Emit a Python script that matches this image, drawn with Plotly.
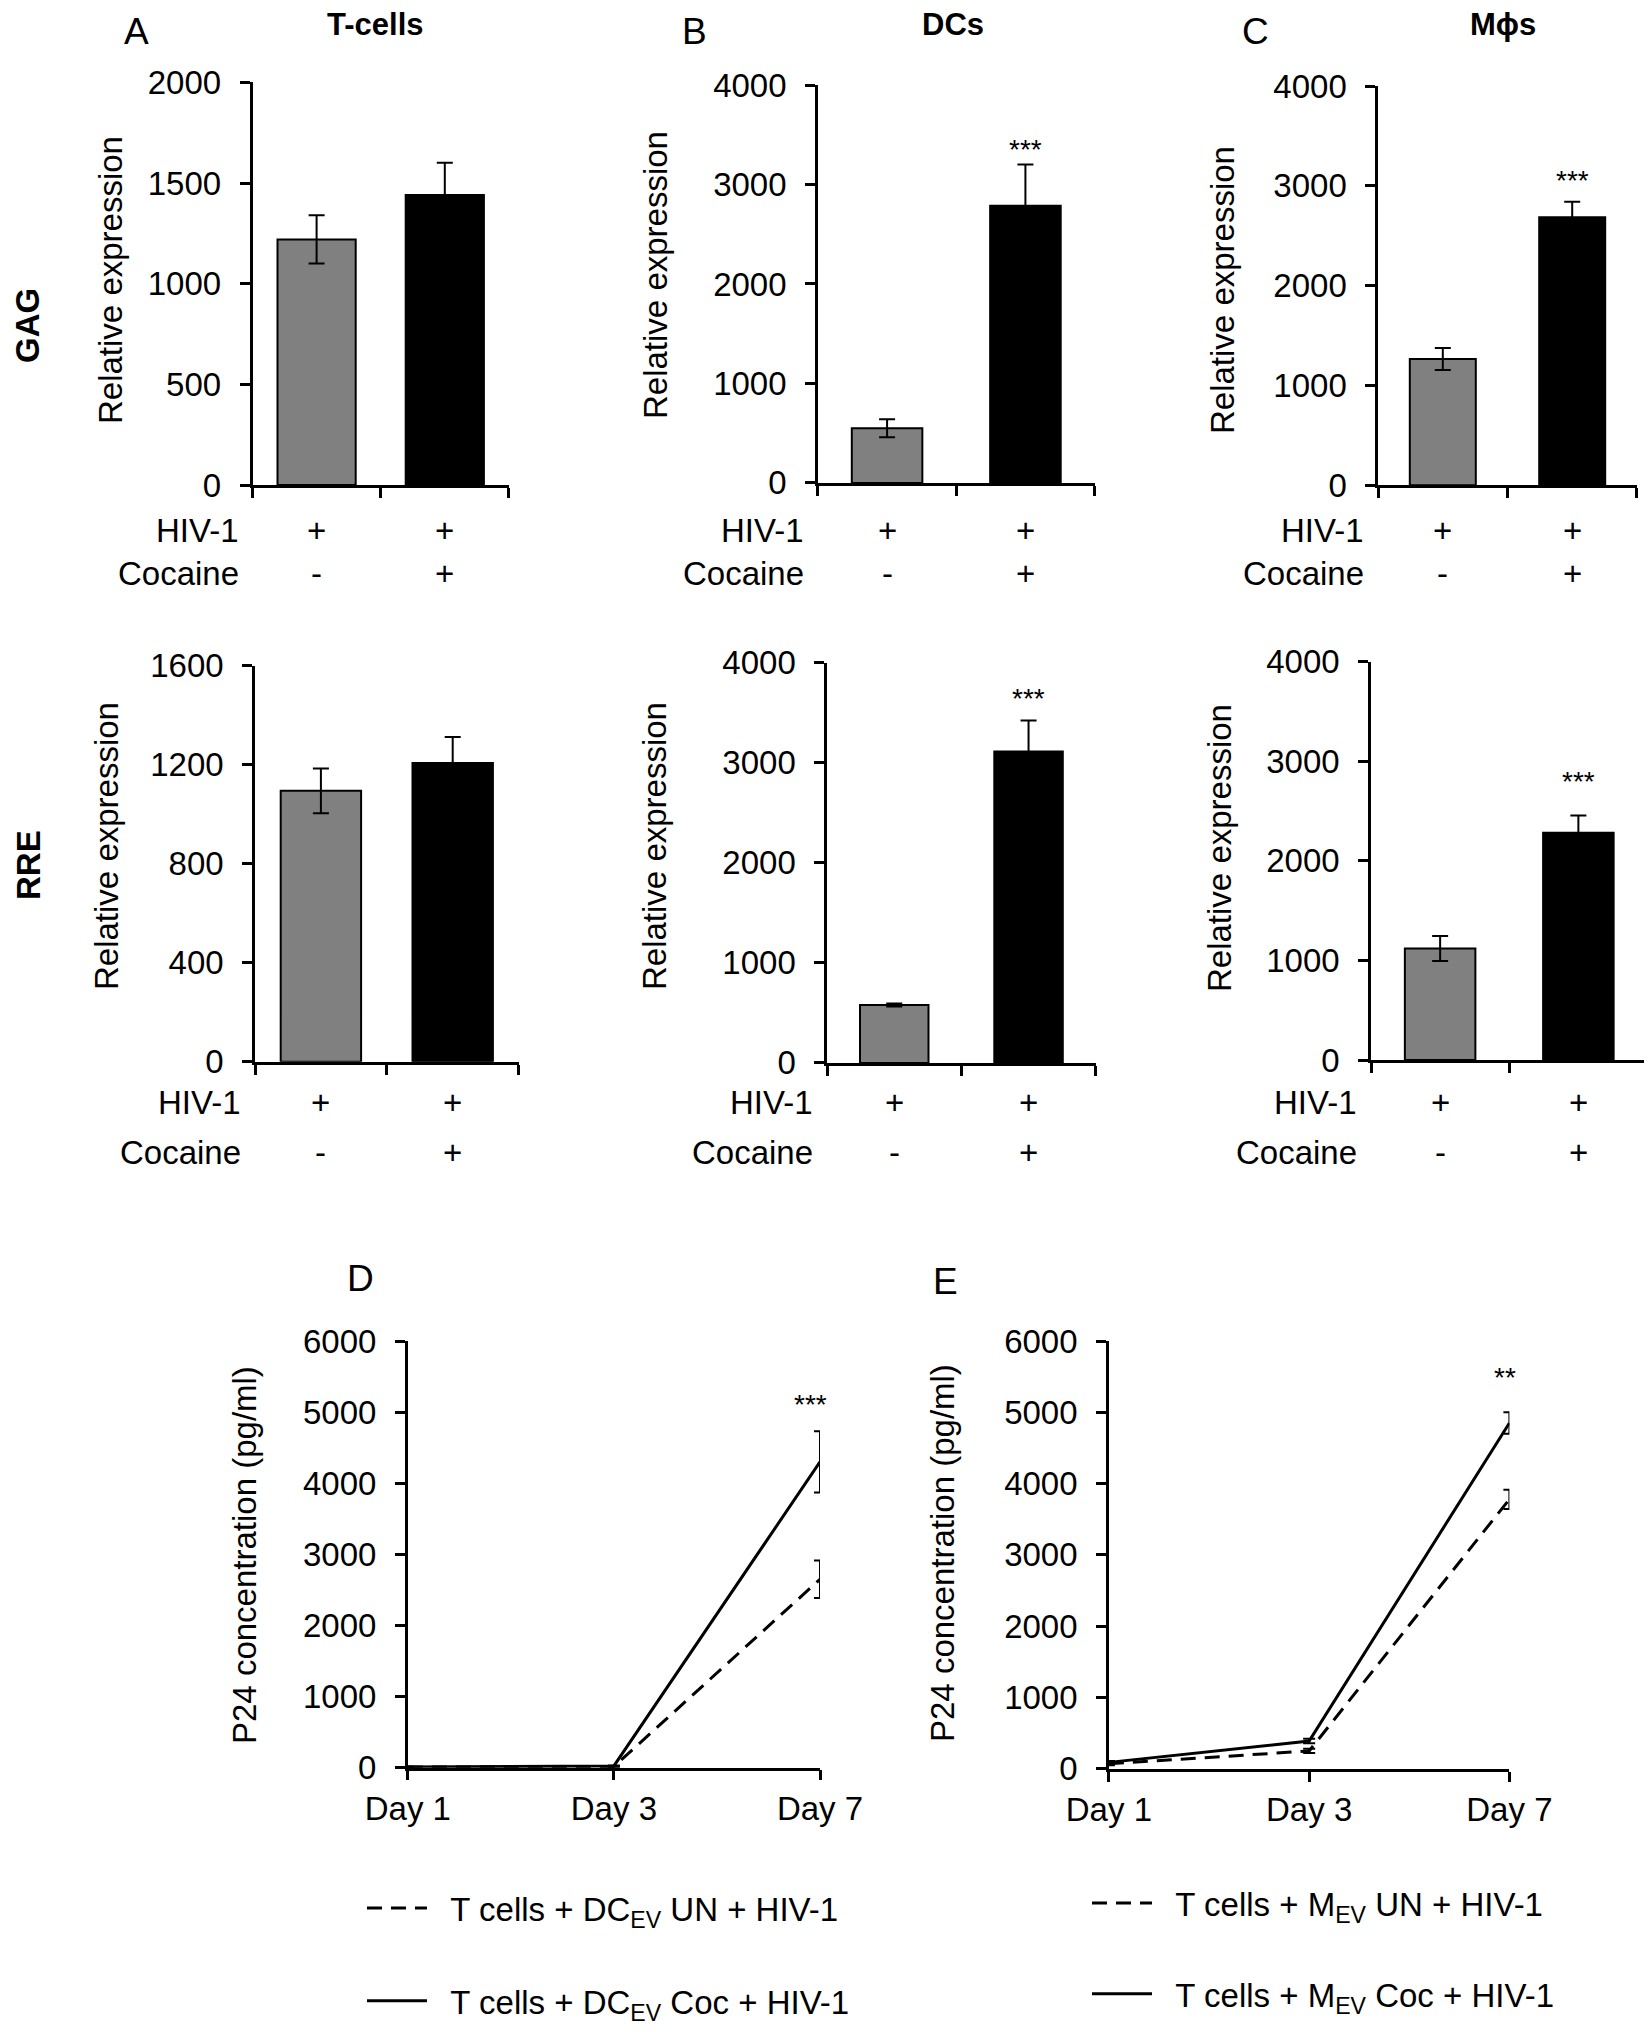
import plotly.graph_objects as go

# ============================
# DATA
# ============================
groups = ["HIV-1", "HIV-1 + Cocaine"]
hiv_signs = ["+", "+"]
cocaine_signs = ["-", "+"]
bar_colors = ["#808080", "#000000"]

gag_tcells = [1220, 1440]
gag_tcells_err = [120, 160]
gag_dcs = [550, 2785]
gag_dcs_err = [90, 415]
gag_macs = [1265, 2685]
gag_macs_err = [110, 155]

rre_tcells = [1095, 1208]
rre_tcells_err = [90, 105]
rre_dcs = [578, 3114]
rre_dcs_err = [15, 310]
rre_macs = [1120, 2282]
rre_macs_err = [125, 175]

days = ["Day 1", "Day 3", "Day 7"]
p24_dc_un = [10, 15, 2650]
p24_dc_un_err = [5, 5, 265]
p24_dc_coc = [10, 25, 4300]
p24_dc_coc_err = [5, 5, 430]
p24_mac_un = [70, 250, 3780]
p24_mac_un_err = [20, 30, 135]
p24_mac_coc = [90, 390, 4850]
p24_mac_coc_err = [20, 30, 150]

legend_dc = ["T cells + DC<sub>EV</sub> UN + HIV-1", "T cells + DC<sub>EV</sub> Coc + HIV-1"]
legend_mac = ["T cells + M<sub>EV</sub> UN + HIV-1", "T cells + M<sub>EV</sub> Coc + HIV-1"]

# ============================
# FIGURE SETUP
# ============================
W, H = 1652, 2032
PAD = 8  # the page body margin shifts the figure by this much
FONT = "Liberation Sans, Arial, sans-serif"
TICK = 33

fig = go.Figure()
annotations = []


def fx(px):
    return (px - PAD) / W


def fy(py):
    return 1 - (py - PAD) / H


def ax_names(n):
    s = "" if n == 1 else str(n)
    return "x" + s, "y" + s, "xaxis" + s, "yaxis" + s


def text(px, py, txt, size=TICK, bold=False, angle=0, xanchor="center", xref="paper", x=None, yshift=0):
    annotations.append(dict(
        x=fx(px) if x is None else x, y=fy(py), xref=xref, yref="paper",
        text="<b>%s</b>" % txt if bold else txt, showarrow=False,
        font=dict(size=size, color="black", family=FONT),
        textangle=angle, xanchor=xanchor, yanchor="middle", yshift=yshift,
    ))


def y_axis_style(xa, top, bottom, ymax, dtick):
    return dict(
        domain=[fy(bottom), fy(top)], anchor=xa, range=[0, ymax], dtick=dtick,
        showline=True, linecolor="black", linewidth=2.5, ticks="outside", ticklen=10,
        tickwidth=2.5, tickcolor="black", showgrid=False, zeroline=False, automargin=False,
        tickfont=dict(size=TICK, color="black", family=FONT), ticklabelstandoff=12,
    )


# ============================
# BAR PANELS (A-C)
# ============================
def bar_panel(n, left, right, top, bottom, values, errors, ymax, dtick, width, rows, star=None):
    xa, ya, xkey, ykey = ax_names(n)
    fig.add_trace(go.Bar(
        x=groups, y=values, width=width, xaxis=xa, yaxis=ya, showlegend=False,
        marker=dict(color=bar_colors, line=dict(color="black", width=2)),
        error_y=dict(type="data", array=errors, color="black", thickness=2, width=8),
    ))
    fig.update_layout(**{
        xkey: dict(domain=[fx(left), fx(right)], anchor=ya, type="category", range=[-0.5, 1.5],
                   tickson="boundaries", ticks="outside", ticklen=10, tickwidth=2.5,
                   tickcolor="black", showticklabels=False, showline=True, linecolor="black",
                   linewidth=2.5, showgrid=False, zeroline=False, automargin=False),
        ykey: y_axis_style(xa, top, bottom, ymax, dtick),
    })
    # HIV-1 / Cocaine rows under the bars
    text(left - 12, rows[0], "HIV-1", xanchor="right")
    text(left - 12, rows[1], "Cocaine", xanchor="right")
    for g, h, c in zip(groups, hiv_signs, cocaine_signs):
        text(0, rows[0], h, xref=xa, x=g)
        text(0, rows[1], c, xref=xa, x=g)
    if star is not None:
        annotations.append(dict(x=groups[1], y=star, xref=xa, yref=ya, text="***",
                                showarrow=False, yshift=-4,
                                font=dict(size=28, color="black", family=FONT)))


row1 = (530, 574)
row2 = (1102, 1152)

bar_panel(1, 252.5, 508.9, 82.3, 485.1, gag_tcells, gag_tcells_err, 2000, 500, 0.61, row1)
bar_panel(2, 817.9, 1094.6, 85, 482.9, gag_dcs, gag_dcs_err, 4000, 1000, 0.51, row1, star=3390)
bar_panel(3, 1378.1, 1636.9, 86.1, 485.2, gag_macs, gag_macs_err, 4000, 1000, 0.51, row1, star=3090)
bar_panel(4, 255, 518.6, 665.9, 1061.8, rre_tcells, rre_tcells_err, 1600, 400, 0.61, row2)
bar_panel(5, 827.1, 1095.7, 662.9, 1062.9, rre_dcs, rre_dcs_err, 4000, 1000, 0.51, row2, star=3680)
bar_panel(6, 1371, 1647.5, 661.8, 1060, rre_macs, rre_macs_err, 4000, 1000, 0.51, row2, star=2840)

# panel letters, titles, row labels
text(136, 32, "A", size=37)
text(694, 32, "B", size=37)
text(1255, 32, "C", size=37)
text(375, 25, "T-cells", size=31, bold=True)
text(953, 25, "DCs", size=31, bold=True)
text(1503, 25, "M\u03d5s", size=31, bold=True)
text(28, 326, "GAG", size=33, bold=True, angle=-90)
text(28, 865, "RRE", size=33, bold=True, angle=-90)

for px, py in [(111, 280), (655, 275), (1223, 290), (107, 846), (655, 846), (1220, 848)]:
    text(px, py, "Relative expression", angle=-90)


# ============================
# LINE PANELS (D-E)
# ============================
def line_panel(n, left, right, top, bottom, series, names, legend, star, stars_txt, star_dx):
    xa, ya, xkey, ykey = ax_names(n)
    for (vals, errs), name, dash in zip(series, names, ["15px,9px", "solid"]):
        fig.add_trace(go.Scatter(
            x=days, y=vals, mode="lines", name="\u00a0\u00a0" + name, legend=legend,
            legendgroup=legend + name,
            line=dict(color="black", width=3, dash=dash), cliponaxis=False,
            error_y=dict(type="data", array=errs, color="black", thickness=2, width=6),
            xaxis=xa, yaxis=ya,
        ))
    fig.update_layout(**{
        xkey: dict(domain=[fx(left), fx(right)], anchor=ya, type="category", range=[0, 2],
                   ticks="outside", ticklen=10, tickwidth=2.5, tickcolor="black",
                   showline=True, linecolor="black", linewidth=2.5, showgrid=False,
                   zeroline=False, automargin=False,
                   tickfont=dict(size=TICK, color="black", family=FONT)),
        ykey: y_axis_style(xa, top, bottom, 6000, 1000),
    })
    annotations.append(dict(x=days[2], y=star, xref=xa, yref=ya, text=stars_txt,
                            showarrow=False, yshift=-4, xshift=star_dx,
                            font=dict(size=28, color="black", family=FONT)))


line_panel(7, 407.8, 820, 1341, 1767.7,
           [(p24_dc_un, p24_dc_un_err), (p24_dc_coc, p24_dc_coc_err)],
           legend_dc, "legend", 5170, "***", -10)
line_panel(8, 1108.9, 1509.4, 1341, 1768.8,
           [(p24_mac_un, p24_mac_un_err), (p24_mac_coc, p24_mac_coc_err)],
           legend_mac, "legend2", 5540, "**", -4)

text(360, 1278, "D", size=37)
text(945, 1281, "E", size=37)
text(244, 1555, "P24 concentration (pg/ml)", angle=-90)
text(942, 1553, "P24 concentration (pg/ml)", angle=-90)

legend_style = dict(xanchor="left", yanchor="bottom", bgcolor="rgba(0,0,0,0)",
                    font=dict(size=33, color="black", family=FONT),
                    traceorder="grouped", itemwidth=60)

fig.update_layout(
    width=W, height=H,
    margin=dict(l=0, r=0, t=0, b=0),
    paper_bgcolor="white", plot_bgcolor="white",
    font=dict(family=FONT, color="black", size=TICK),
    annotations=annotations,
    legend=dict(x=fx(362), y=fy(2029), tracegroupgap=47, **legend_style),
    legend2=dict(x=fx(1087), y=fy(2022), tracegroupgap=45, **legend_style),
)

fig.write_html("out.html")
